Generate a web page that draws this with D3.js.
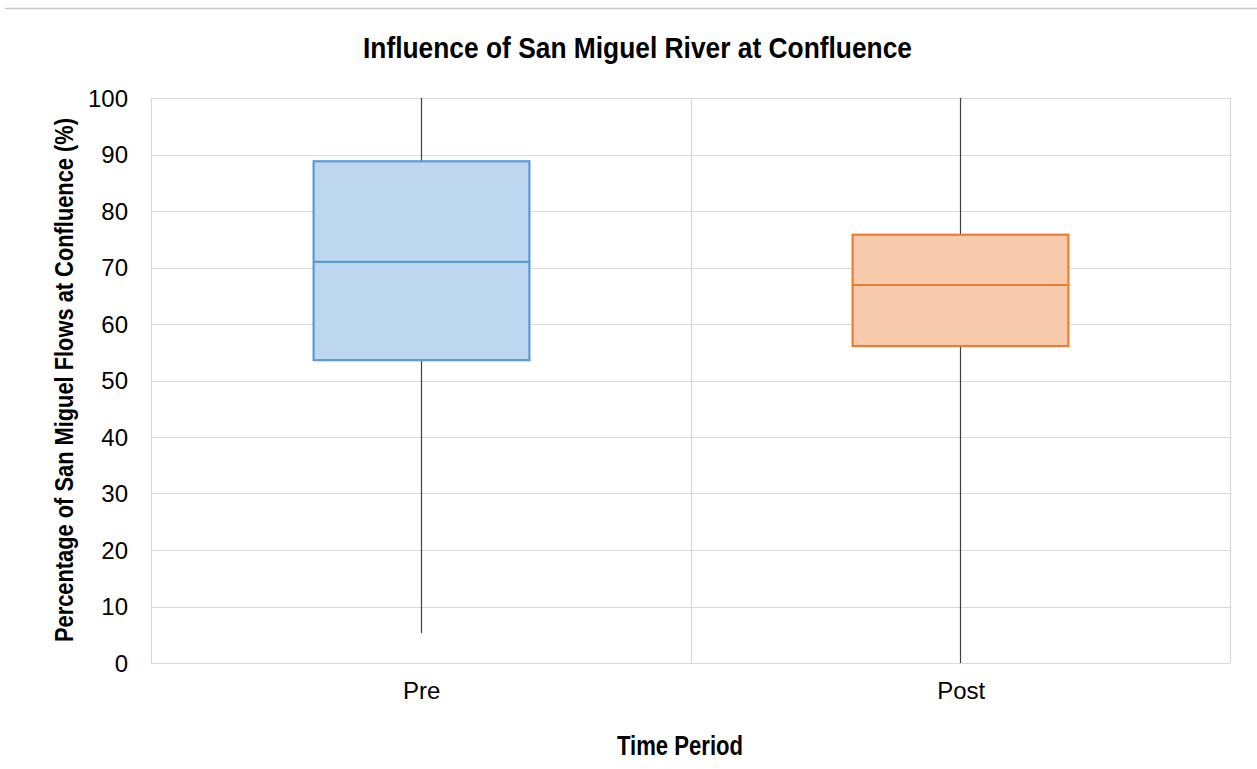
<!DOCTYPE html>
<html>
<head>
<meta charset="utf-8">
<script src="https://cdn.jsdelivr.net/npm/d3@7.9.0/dist/d3.min.js"></script>
<style>
  body { margin: 0; background: #fff; }
  svg text { font-family: "Liberation Sans", Arial, sans-serif; fill: #000; }
  .narrow { font-family: "Liberation Sans Narrow", "Arial Narrow", "Liberation Sans", sans-serif; font-weight: bold; }
</style>
</head>
<body>
<svg id="chart" width="1257" height="769"></svg>
<script>
const periods = ["Pre", "Post"];
const mins = [5.3, 0];
const q1s = [53.6, 56.1];
const medians = [71.0, 66.9];
const q3s = [88.8, 75.8];
const maxs = [100, 100];
const yTicks = [0, 10, 20, 30, 40, 50, 60, 70, 80, 90, 100];
const fills = ["#bdd7ee", "#f8cbad"];
const strokes = ["#5b9bd5", "#ed7d31"];

const data = periods.map((p, i) => ({
  period: p, min: mins[i], q1: q1s[i], median: medians[i], q3: q3s[i], max: maxs[i], i
}));

const svg = d3.select("#chart");
const plotLeft = 151, plotRight = 1230, plotTop = 98, plotBottom = 663;

// thin rule at the very top of the picture
svg.append("line")
  .attr("x1", 5).attr("x2", 1257).attr("y1", 8.5).attr("y2", 8.5)
  .attr("stroke", "#c8c8c8").attr("stroke-width", 1.5);

const x = d3.scaleBand().domain(periods).range([plotLeft, plotRight]);
const y = d3.scaleLinear().domain([0, 100]).range([plotBottom, plotTop]);

// horizontal gridlines
svg.append("g").selectAll("line")
  .data(yTicks)
  .join("line")
  .attr("x1", plotLeft).attr("x2", plotRight)
  .attr("y1", d => Math.round(y(d)) + 0.5).attr("y2", d => Math.round(y(d)) + 0.5)
  .attr("stroke", "#d9d9d9").attr("stroke-width", 1.2);

// vertical gridlines (category boundaries)
const bounds = [plotLeft, ...periods.map(p => x(p) + x.bandwidth())];
svg.append("g").selectAll("line")
  .data(bounds)
  .join("line")
  .attr("x1", d => Math.round(d) + 0.5).attr("x2", d => Math.round(d) + 0.5)
  .attr("y1", plotTop).attr("y2", plotBottom)
  .attr("stroke", "#d9d9d9").attr("stroke-width", 1.2);

// y tick labels
svg.append("g").selectAll("text")
  .data(yTicks)
  .join("text")
  .attr("x", 128).attr("y", d => y(d))
  .attr("dy", "0.36em")
  .attr("text-anchor", "end")
  .attr("font-size", 24)
  .text(d => d);

// x tick labels
svg.append("g").selectAll("text")
  .data(periods)
  .join("text")
  .attr("x", d => x(d) + x.bandwidth() / 2 + 1).attr("y", 699)
  .attr("text-anchor", "middle")
  .attr("font-size", 24)
  .text(d => d);

const boxW = x.bandwidth() * 0.4;
const boxes = svg.append("g").selectAll("g")
  .data(data)
  .join("g")
  .attr("transform", d => `translate(${Math.round(x(d.period) + x.bandwidth() / 2) + 0.5},0)`);

// whiskers
boxes.append("line")
  .attr("y1", d => y(d.min)).attr("y2", d => y(d.max))
  .attr("stroke", "#404040").attr("stroke-width", 1.2);

boxes.append("rect")
  .attr("x", -boxW / 2).attr("width", boxW)
  .attr("y", d => y(d.q3)).attr("height", d => y(d.q1) - y(d.q3))
  .attr("fill", d => fills[d.i])
  .attr("stroke", d => strokes[d.i]).attr("stroke-width", 2.2);

boxes.append("line")
  .attr("x1", -boxW / 2).attr("x2", boxW / 2)
  .attr("y1", d => y(d.median)).attr("y2", d => y(d.median))
  .attr("stroke", d => strokes[d.i]).attr("stroke-width", 2.2);

// title and axis titles (condensed look via textLength)
svg.append("text")
  .attr("class", "narrow")
  .attr("x", 637.5).attr("y", 58)
  .attr("text-anchor", "middle")
  .attr("font-size", 30)
  .attr("textLength", 549).attr("lengthAdjust", "spacingAndGlyphs")
  .text("Influence of San Miguel River at Confluence");

svg.append("text")
  .attr("class", "narrow")
  .attr("transform", `translate(73,380) rotate(-90)`)
  .attr("text-anchor", "middle")
  .attr("font-size", 26)
  .attr("textLength", 524).attr("lengthAdjust", "spacingAndGlyphs")
  .text("Percentage of San Miguel Flows at Confluence (%)");

svg.append("text")
  .attr("class", "narrow")
  .attr("x", 680).attr("y", 755)
  .attr("text-anchor", "middle")
  .attr("font-size", 27)
  .attr("textLength", 126).attr("lengthAdjust", "spacingAndGlyphs")
  .text("Time Period");
</script>
</body>
</html>
